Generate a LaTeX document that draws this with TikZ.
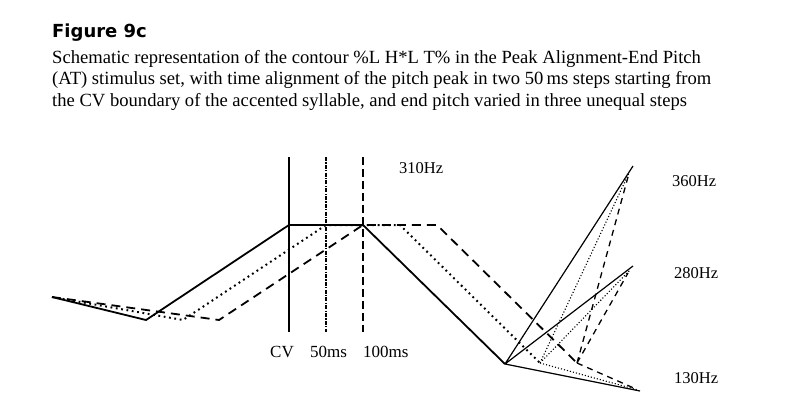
\documentclass[tikz,border=0pt]{standalone}
\usepackage{fontspec}
\setmainfont{Liberation Serif}
\newfontfamily\headfont{DejaVu Sans}

\begin{document}
\begin{tikzpicture}[x=1pt,y=-1pt,
    contour/.style={line width=1.8pt,line join=round},
    dotline/.style={contour,line width=2pt,dash pattern=on 1.8pt off 3.6pt},
    dashline/.style={contour,dash pattern=on 9pt off 6pt},
    branch/.style={line width=1.2pt},
    dotbranch/.style={line width=1.1pt,dash pattern=on 1.1pt off 2pt},
    dashbranch/.style={line width=1.3pt,dash pattern=on 6pt off 5pt},
    boundary/.style={line width=2.6pt},
    txt/.style={anchor=base west,inner sep=0pt,font=\fontsize{17}{20}\selectfont},
    capline/.style={txt,font=\fontsize{18.6}{22}\selectfont},
    hz/.style={txt,font=\fontsize{16.5}{20}\selectfont}]
\useasboundingbox (0,0) rectangle (804,408);

\node (title) [anchor=base west,inner sep=0pt,font=\headfont\bfseries\fontsize{18}{22}\selectfont] at (52,37) {Figure 9c};
\node (cap1) [capline] at (52,63) {Schematic representation of the contour \%L H*L T\% in the Peak Alignment-End Pitch};
\node (cap2) [capline] at (52,84.5) {(AT) stimulus set, with time alignment of the pitch peak in two 50\,ms steps starting from};
\node (cap3) [capline] at (52,106) {the CV boundary of the accented syllable, and end pitch varied in three unequal steps};

\draw[boundary] (289,157) coordinate (cvtop) -- (289,332) coordinate (cvbot);
\draw[boundary,line width=2.2pt,dash pattern=on 4pt off 1.3pt on 1.2pt off 1.3pt]
    (326,157) coordinate (fiftop) -- (326,332) coordinate (fifbot);
\draw[boundary,dash pattern=on 8pt off 4pt] (363,157) coordinate (hunttop) -- (363,332) coordinate (huntbot);

\node (cv) [txt] at (270,357) {CV};
\node (fifty) [txt] at (310,357) {50ms};
\node (hundred) [txt] at (363,357) {100ms};

\coordinate (start) at (52,297);
\coordinate (hi) at (633,166);
\coordinate (mid) at (633,266);
\coordinate (lo) at (640,391);

\coordinate (slow) at (146,320);
\coordinate (speak) at (289,225);
\coordinate (sfall) at (363,225);
\coordinate (svalley) at (505,364);
\draw[contour] (start) -- (slow) -- (speak) -- (sfall) -- (svalley);
\draw[branch] (svalley) -- (hi) (svalley) -- (mid) (svalley) -- (lo);

\coordinate (olow) at (183,320);
\coordinate (opeak) at (326,225);
\coordinate (ofall) at (400,225);
\coordinate (ovalley) at (540,363);
\draw[dotline] (start) -- (olow) -- (opeak) -- (ofall) -- (ovalley);
\draw[dotbranch] (ovalley) -- (629,173) (ovalley) -- (630,270) (ovalley) -- (638,390);

\coordinate (dlow) at (219,320);
\coordinate (dpeak) at (363,225);
\coordinate (dfall) at (437,225);
\coordinate (dvalley) at (577,363);
\draw[dashline] (start) -- (dlow) -- (dpeak) -- (dfall) -- (dvalley);
\draw[dashbranch] (dvalley) -- (628,177) (dvalley) -- (628,273) (dvalley) -- (636,389);

\node (top) [hz] at (399,173) {310Hz};
\node (high) [hz] at (672,186) {360Hz};
\node (middle) [hz] at (674,278) {280Hz};
\node (low) [hz] at (674,383) {130Hz};
\end{tikzpicture}
\end{document}
